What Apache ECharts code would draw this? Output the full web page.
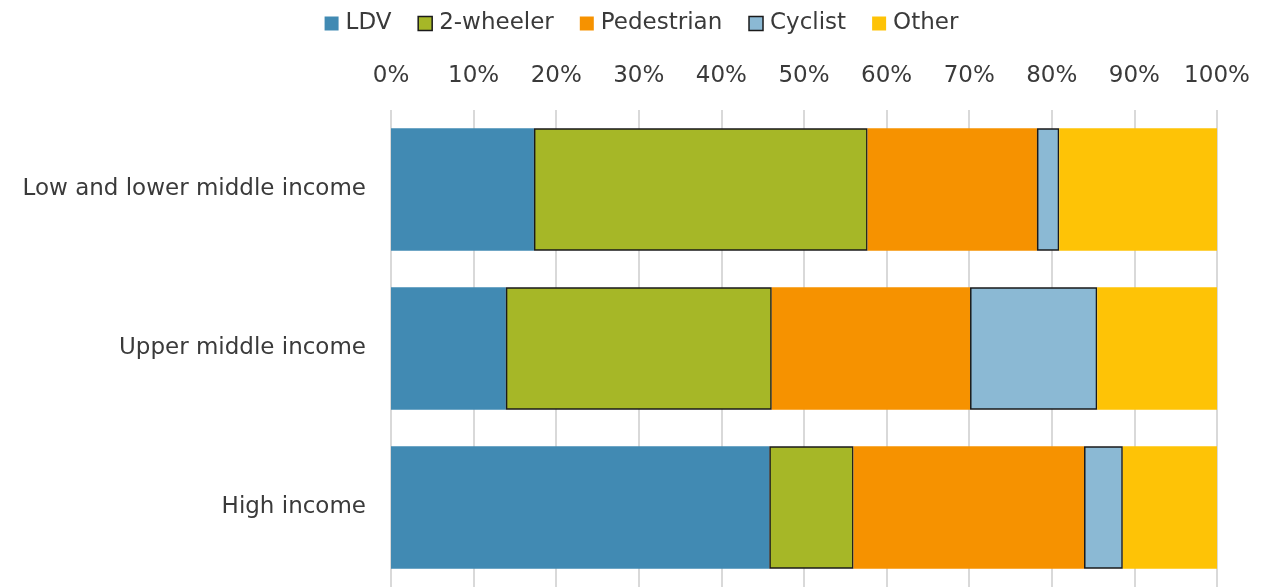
<!DOCTYPE html>
<html><head><meta charset="utf-8">
<script src="https://cdn.jsdelivr.net/npm/echarts@6/dist/echarts.min.js"></script>
<style>html,body{margin:0;padding:0;background:#fff}#c{width:1283px;height:587px}</style>
</head><body><div id="c"></div>
<script>
const categories = ['Low and lower middle income', 'Upper middle income', 'High income'];
const seriesNames = ['LDV', '2-wheeler', 'Pedestrian', 'Cyclist', 'Other'];
const ldv = [17.3, 13.9, 45.8];
const twoWheeler = [40.4, 32.2, 10.2];
const pedestrian = [20.5, 24.0, 27.9];
const cyclist = [2.7, 15.4, 4.7];
const other = [19.1, 14.5, 11.4];
const xTicks = [0, 10, 20, 30, 40, 50, 60, 70, 80, 90, 100];

const colors = ['#418AB3', '#A6B727', '#F69200', '#8BB9D4', '#FEC306'];
const bordered = [false, true, false, true, false];
const values = [ldv, twoWheeler, pedestrian, cyclist, other];
const font = '"DejaVu Sans", sans-serif';

const chart = echarts.init(document.getElementById('c'));
chart.setOption({
  animation: false,
  textStyle: { fontFamily: font },
  legend: {
    top: 7, left: 'center', itemWidth: 14, itemHeight: 14, itemGap: 26,
    textStyle: { fontSize: 23, color: '#3a3a3a', fontFamily: font, padding: [0, 0, 0, 2] },
    data: seriesNames.map((n, i) => ({
      name: n, icon: 'rect',
      itemStyle: bordered[i] ? { borderColor: '#1a1a1a', borderWidth: 1.5 } : { borderWidth: 0 }
    }))
  },
  grid: { left: 391, width: 826, top: 110, height: 480, containLabel: false },
  xAxis: {
    type: 'value', position: 'top', min: 0, max: 100, interval: 10,
    axisLabel: { formatter: v => xTicks.includes(v) ? v + '%' : '', fontSize: 23, color: '#3a3a3a', margin: 22, fontFamily: font },
    splitLine: { show: true, lineStyle: { color: '#d9d9d9', width: 2 } },
    axisLine: { show: false }, axisTick: { show: false }
  },
  yAxis: {
    type: 'category', data: categories, inverse: true,
    axisLabel: { fontSize: 23, color: '#3a3a3a', margin: 25, fontFamily: font },
    axisLine: { show: false }, axisTick: { show: false }
  },
  series: seriesNames.map((n, i) => ({
    name: n, type: 'bar', stack: 'total', barWidth: '77%',
    itemStyle: { color: colors[i], borderColor: bordered[i] ? '#1a1a1a' : colors[i], borderWidth: bordered[i] ? 1.5 : 0 },
    data: values[i]
  }))
});
</script></body></html>
